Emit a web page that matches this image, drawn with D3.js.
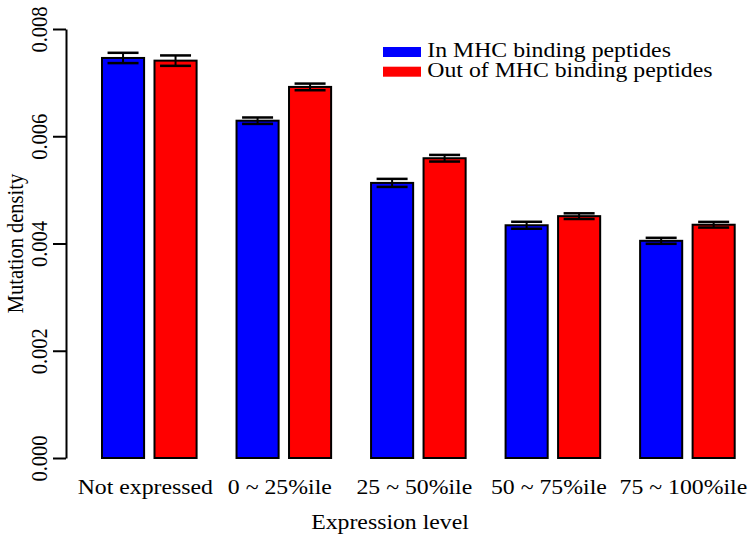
<!DOCTYPE html>
<html>
<head>
<meta charset="utf-8">
<script src="https://cdn.jsdelivr.net/npm/d3@7"></script>
<style>
  html, body { margin: 0; padding: 0; background: #fff; }
  svg { display: block; }
  text { font-family: "Liberation Serif", "Times New Roman", serif; fill: #000; }
</style>
</head>
<body>
<svg id="chart" width="750" height="540"></svg>
<script>
// ---- data ----
const categories = ["Not expressed", "0 ~ 25%ile", "25 ~ 50%ile", "50 ~ 75%ile", "75 ~ 100%ile"];
const seriesNames = ["In MHC binding peptides", "Out of MHC binding peptides"];
const inValues  = [0.00746, 0.00629, 0.00513, 0.00434, 0.00405];
const inErrors  = [0.000096, 0.000060, 0.000075, 0.000065, 0.000056];
const outValues = [0.00741, 0.00692, 0.00559, 0.00451, 0.00435];
const outErrors = [0.000097, 0.000062, 0.000062, 0.000053, 0.000053];
const yTicks = [0, 0.002, 0.004, 0.006, 0.008];
const xTitle = "Expression level";
const yTitle = "Mutation density";

// ---- layout ----
const colors = ["#0000ff", "#ff0000"];
const SX = 1.16;           // horizontal stretch of glyphs in the reference
const FS = 20.5;
const svg = d3.select("#chart");

const y = d3.scaleLinear().domain([0, 0.008]).range([458, 29]);
const x0 = d3.scaleBand().domain(categories).range([101, 735.7]).paddingInner(0.282).paddingOuter(0);
const x1 = d3.scaleBand().domain(seriesNames).range([0, x0.bandwidth()]).paddingInner(0.16).paddingOuter(0);

const rows = categories.map((c, i) => ({
  cat: c,
  items: [
    { s: seriesNames[0], v: inValues[i], e: inErrors[i], col: colors[0] },
    { s: seriesNames[1], v: outValues[i], e: outErrors[i], col: colors[1] }
  ]
}));

// bars
const g = svg.append("g");
const grp = g.selectAll("g.grp").data(rows).join("g")
  .attr("class", "grp")
  .attr("transform", d => `translate(${x0(d.cat)},0)`);

grp.selectAll("rect").data(d => d.items).join("rect")
  .attr("x", d => x1(d.s) + 1)
  .attr("width", x1.bandwidth() - 2)
  .attr("y", d => y(d.v))
  .attr("height", d => y(0) - y(d.v))
  .attr("fill", d => d.col)
  .attr("stroke", "#000")
  .attr("stroke-width", 2);

// error bars
const capHalf = 15.5;
const eb = grp.selectAll("g.eb").data(d => d.items).join("g")
  .attr("class", "eb")
  .attr("transform", d => `translate(${x1(d.s) + x1.bandwidth() / 2},0)`);
eb.append("line")
  .attr("x1", 0).attr("x2", 0)
  .attr("y1", d => y(d.v + d.e)).attr("y2", d => y(d.v - d.e))
  .attr("stroke", "#000").attr("stroke-width", 2);
eb.append("line")
  .attr("x1", -capHalf).attr("x2", capHalf)
  .attr("y1", d => y(d.v + d.e)).attr("y2", d => y(d.v + d.e))
  .attr("stroke", "#000").attr("stroke-width", 2.5);
eb.append("line")
  .attr("x1", -capHalf).attr("x2", capHalf)
  .attr("y1", d => y(d.v - d.e)).attr("y2", d => y(d.v - d.e))
  .attr("stroke", "#000").attr("stroke-width", 2.5);

// y axis
const yAxis = svg.append("g")
  .attr("transform", "translate(66,0)")
  .call(d3.axisLeft(y).tickValues(yTicks).tickFormat(d3.format(".3f")).tickSize(13).tickSizeOuter(0));
yAxis.select(".domain").attr("stroke", "#000").attr("stroke-width", 2);
yAxis.selectAll(".tick line").attr("stroke", "#000").attr("stroke-width", 2);
yAxis.selectAll(".tick text")
  .attr("x", null).attr("dy", null).attr("y", null)
  .attr("text-anchor", "middle")
  .attr("font-size", FS)
  .attr("font-family", "Liberation Serif")
  .attr("fill", "#000")
  .attr("transform", `translate(-19,0) scale(${SX},1) rotate(-90)`);

// x category labels
svg.append("g").selectAll("text").data(categories).join("text")
  .attr("transform", d => `translate(${x0(d) + x0.bandwidth() / 2 - 4},494) scale(${SX},1)`)
  .attr("text-anchor", "middle")
  .attr("font-size", FS)
  .text(d => d);

// axis titles
svg.append("text")
  .attr("transform", `translate(390,528.5) scale(${SX},1)`)
  .attr("text-anchor", "middle")
  .attr("font-size", FS)
  .text(xTitle);
svg.append("text")
  .attr("transform", `translate(23,${(y(0) + y(0.008)) / 2}) scale(${SX},1) rotate(-90)`)
  .attr("text-anchor", "middle")
  .attr("font-size", FS)
  .text(yTitle);

// legend
const leg = svg.append("g").selectAll("g").data(seriesNames).join("g")
  .attr("transform", (d, i) => `translate(383,${47 + i * 19.7})`);
leg.append("rect")
  .attr("width", 38).attr("height", 10)
  .attr("fill", (d, i) => colors[i]);
leg.append("text")
  .attr("transform", `translate(44.3,10.3) scale(${SX},1)`)
  .attr("font-size", FS)
  .text(d => d);
</script>
</body>
</html>
